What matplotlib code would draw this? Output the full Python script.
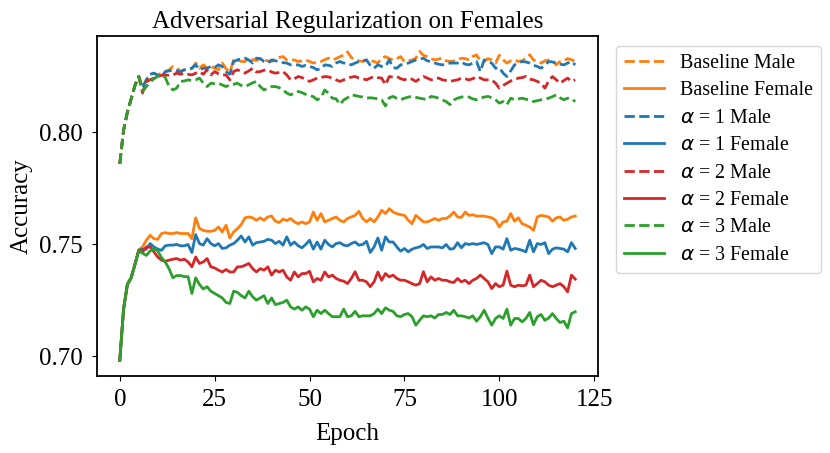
import matplotlib
matplotlib.use("Agg")
import matplotlib.pyplot as plt
import numpy as np

plt.rcParams['font.family'] = ['Liberation Serif', 'DejaVu Serif']
plt.rcParams['mathtext.fontset'] = 'dejavusans'

epochs = list(range(121))

baseline_male = [
    0.786, 0.801, 0.809, 0.815, 0.821, 0.825, 0.820, 0.8235, 0.8257, 0.8265,
    0.8257, 0.8265, 0.8272, 0.8280, 0.8295, 0.8290, 0.8272, 0.8280, 0.8280, 0.8285,
    0.8310, 0.8287, 0.8302, 0.8290, 0.8295, 0.8287, 0.8280, 0.8310, 0.8285, 0.8270,
    0.8324, 0.8325, 0.8317, 0.8317, 0.8330, 0.8325, 0.8322, 0.8330, 0.8324, 0.8320,
    0.8317, 0.8330, 0.8335, 0.8339, 0.8324, 0.8324, 0.8324, 0.8317, 0.8320, 0.8324,
    0.8317, 0.8310, 0.8315, 0.8317, 0.8325, 0.8332, 0.8324, 0.8330, 0.8339, 0.8345,
    0.8360, 0.8335, 0.8324, 0.8320, 0.8317, 0.8324, 0.8320, 0.8317, 0.8310, 0.8332,
    0.8339, 0.8330, 0.8324, 0.8330, 0.8339, 0.8317, 0.8320, 0.8324, 0.8332, 0.8362,
    0.8345, 0.8339, 0.8330, 0.8324, 0.8328, 0.8332, 0.8320, 0.8317, 0.8320, 0.8324,
    0.8332, 0.8330, 0.8324, 0.8340, 0.8347, 0.8320, 0.8317, 0.8330, 0.8324, 0.8310,
    0.8345, 0.8325, 0.8310, 0.8320, 0.8324, 0.8317, 0.8320, 0.8332, 0.8347, 0.8324,
    0.8317, 0.8310, 0.8320, 0.8324, 0.8320, 0.8302, 0.8317, 0.8320, 0.8330, 0.8325,
    0.8317,
]

baseline_female = [
    0.698, 0.721, 0.732, 0.735, 0.741, 0.7475, 0.7488, 0.7518, 0.7540, 0.7525,
    0.7522, 0.7548, 0.7552, 0.7548, 0.7548, 0.7552, 0.7548, 0.7548, 0.7548, 0.7525,
    0.7618, 0.7570, 0.7562, 0.7558, 0.7558, 0.7562, 0.7577, 0.7555, 0.7585, 0.7528,
    0.7555, 0.7570, 0.7588, 0.7618, 0.7622, 0.7618, 0.7607, 0.7618, 0.7607, 0.7622,
    0.7626, 0.7603, 0.7597, 0.7612, 0.7606, 0.7615, 0.7600, 0.7592, 0.7600, 0.7592,
    0.7600, 0.7644, 0.7607, 0.7637, 0.7600, 0.7607, 0.7615, 0.7622, 0.7607, 0.7600,
    0.7615, 0.7622, 0.7629, 0.7647, 0.7615, 0.7600, 0.7615, 0.7600, 0.7622, 0.7652,
    0.7637, 0.7659, 0.7644, 0.7637, 0.7632, 0.7629, 0.7607, 0.7592, 0.7629, 0.7615,
    0.7600, 0.7600, 0.7607, 0.7615, 0.7607, 0.7615, 0.7615, 0.7626, 0.7644, 0.7622,
    0.7620, 0.7644, 0.7629, 0.7632, 0.7626, 0.7626, 0.7626, 0.7622, 0.7618, 0.7607,
    0.7577, 0.7600, 0.7603, 0.7637, 0.7603, 0.7618, 0.7592, 0.7585, 0.7577, 0.7562,
    0.7622, 0.7629, 0.7626, 0.7622, 0.7603, 0.7618, 0.7622, 0.7607, 0.7612, 0.7622,
    0.7626,
]

alpha1_male = [
    0.786, 0.801, 0.809, 0.815, 0.821, 0.825, 0.8198, 0.8235, 0.8260, 0.8265,
    0.8255, 0.8250, 0.8272, 0.8275, 0.8280, 0.8275, 0.8272, 0.8280, 0.8282, 0.8287,
    0.8302, 0.8280, 0.8287, 0.8287, 0.8295, 0.8290, 0.8302, 0.8295, 0.8272, 0.8260,
    0.8317, 0.8324, 0.8330, 0.8332, 0.8324, 0.8310, 0.8332, 0.8330, 0.8317, 0.8310,
    0.8324, 0.8320, 0.8317, 0.8312, 0.8310, 0.8302, 0.8302, 0.8302, 0.8295, 0.8300,
    0.8295, 0.8290, 0.8280, 0.8285, 0.8302, 0.8300, 0.8295, 0.8310, 0.8317, 0.8310,
    0.8310, 0.8302, 0.8310, 0.8317, 0.8320, 0.8324, 0.8300, 0.8287, 0.8302, 0.8295,
    0.8295, 0.8324, 0.8290, 0.8287, 0.8302, 0.8305, 0.8310, 0.8317, 0.8324, 0.8328,
    0.8332, 0.8320, 0.8317, 0.8310, 0.8305, 0.8302, 0.8305, 0.8310, 0.8310, 0.8310,
    0.8315, 0.8305, 0.8302, 0.8310, 0.8317, 0.8272, 0.8324, 0.8315, 0.8310, 0.8287,
    0.8290, 0.8265, 0.8250, 0.8275, 0.8302, 0.8310, 0.8317, 0.8315, 0.8310, 0.8300,
    0.8295, 0.8287, 0.8300, 0.8317, 0.8315, 0.8310, 0.8305, 0.8302, 0.8310, 0.8317,
    0.8302,
]

alpha1_female = [
    0.698, 0.721, 0.732, 0.735, 0.741, 0.7473, 0.7478, 0.7478, 0.7503, 0.7488,
    0.7478, 0.7473, 0.7493, 0.7496, 0.7496, 0.7499, 0.7493, 0.7493, 0.7499, 0.7463,
    0.7543, 0.7503, 0.7496, 0.7525, 0.7503, 0.7493, 0.7503, 0.7481, 0.7484, 0.7496,
    0.7503, 0.7518, 0.7537, 0.7510, 0.7533, 0.7496, 0.7507, 0.7510, 0.7513, 0.7522,
    0.7518, 0.7503, 0.7513, 0.7496, 0.7533, 0.7496, 0.7510, 0.7493, 0.7484, 0.7499,
    0.7518, 0.7478, 0.7510, 0.7478, 0.7518, 0.7499, 0.7488, 0.7503, 0.7507, 0.7496,
    0.7493, 0.7503, 0.7510, 0.7496, 0.7499, 0.7513, 0.7463, 0.7488, 0.7528, 0.7473,
    0.7533, 0.7510, 0.7510, 0.7488, 0.7469, 0.7481, 0.7466, 0.7478, 0.7484, 0.7488,
    0.7499, 0.7481, 0.7488, 0.7488, 0.7488, 0.7484, 0.7499, 0.7478, 0.7481, 0.7507,
    0.7484, 0.7503, 0.7499, 0.7503, 0.7499, 0.7503, 0.7507, 0.7499, 0.7458, 0.7488,
    0.7488, 0.7478, 0.7525, 0.7473, 0.7481, 0.7478, 0.7473, 0.7466, 0.7518, 0.7466,
    0.7503, 0.7499, 0.7507, 0.7458, 0.7478, 0.7484, 0.7481, 0.7478, 0.7466, 0.7507,
    0.7481,
]

alpha2_male = [
    0.786, 0.801, 0.809, 0.815, 0.821, 0.825, 0.8176, 0.8228, 0.8235, 0.8243,
    0.8250, 0.8255, 0.8257, 0.8255, 0.8257, 0.8265, 0.8260, 0.8265, 0.8260, 0.8257,
    0.8265, 0.8272, 0.8260, 0.8280, 0.8257, 0.8272, 0.8262, 0.8257, 0.8257, 0.8235,
    0.8272, 0.8280, 0.8272, 0.8265, 0.8275, 0.8287, 0.8270, 0.8272, 0.8278, 0.8280,
    0.8270, 0.8265, 0.8268, 0.8272, 0.8257, 0.8235, 0.8240, 0.8250, 0.8245, 0.8235,
    0.8228, 0.8235, 0.8243, 0.8245, 0.8250, 0.8248, 0.8243, 0.8235, 0.8228, 0.8235,
    0.8243, 0.8247, 0.8250, 0.8243, 0.8240, 0.8235, 0.8243, 0.8250, 0.8245, 0.8243,
    0.8213, 0.8250, 0.8247, 0.8250, 0.8240, 0.8235, 0.8243, 0.8238, 0.8228, 0.8240,
    0.8250, 0.8243, 0.8235, 0.8240, 0.8243, 0.8235, 0.8232, 0.8228, 0.8232, 0.8235,
    0.8243, 0.8240, 0.8235, 0.8240, 0.8250, 0.8243, 0.8235, 0.8235, 0.8235, 0.8220,
    0.8198, 0.8210, 0.8220, 0.8230, 0.8235, 0.8243, 0.8245, 0.8250, 0.8238, 0.8235,
    0.8228, 0.8220, 0.8198, 0.8230, 0.8250, 0.8235, 0.8220, 0.8232, 0.8243, 0.8228,
    0.8235,
]

alpha2_female = [
    0.698, 0.721, 0.732, 0.735, 0.741, 0.7473, 0.7465, 0.7488, 0.7488, 0.7466,
    0.7443, 0.7429, 0.7424, 0.7429, 0.7433, 0.7436, 0.7429, 0.7433, 0.7421, 0.7399,
    0.7443, 0.7414, 0.7421, 0.7436, 0.7399, 0.7394, 0.7384, 0.7376, 0.7387, 0.7376,
    0.7376, 0.7399, 0.7399, 0.7406, 0.7414, 0.7391, 0.7376, 0.7391, 0.7384, 0.7399,
    0.7362, 0.7384, 0.7376, 0.7384, 0.7354, 0.7339, 0.7376, 0.7354, 0.7369, 0.7369,
    0.7379, 0.7332, 0.7347, 0.7339, 0.7376, 0.7354, 0.7362, 0.7347, 0.7339, 0.7335,
    0.7324, 0.7347, 0.7377, 0.7339, 0.7339, 0.7332, 0.7310, 0.7332, 0.7376, 0.7339,
    0.7369, 0.7354, 0.7362, 0.7347, 0.7339, 0.7339, 0.7332, 0.7324, 0.7317, 0.7324,
    0.7377, 0.7332, 0.7354, 0.7339, 0.7347, 0.7339, 0.7339, 0.7332, 0.7329, 0.7347,
    0.7332, 0.7339, 0.7324, 0.7339, 0.7347, 0.7362, 0.7347, 0.7332, 0.7302, 0.7324,
    0.7310, 0.7317, 0.7380, 0.7317, 0.7310, 0.7317, 0.7314, 0.7317, 0.7362, 0.7310,
    0.7324, 0.7339, 0.7332, 0.7317, 0.7310, 0.7317, 0.7324, 0.7310, 0.7287, 0.7362,
    0.7344,
]

alpha3_male = [
    0.786, 0.801, 0.809, 0.815, 0.821, 0.825, 0.8185, 0.8205, 0.8225, 0.8240,
    0.8250, 0.8257, 0.8245, 0.8205, 0.8190, 0.8198, 0.8228, 0.8230, 0.8235, 0.8232,
    0.8235, 0.8243, 0.8220, 0.8205, 0.8220, 0.8218, 0.8220, 0.8212, 0.8205, 0.8213,
    0.8215, 0.8220, 0.8210, 0.8205, 0.8213, 0.8222, 0.8228, 0.8205, 0.8190, 0.8198,
    0.8205, 0.8205, 0.8200, 0.8190, 0.8176, 0.8168, 0.8175, 0.8183, 0.8178, 0.8170,
    0.8165, 0.8160, 0.8146, 0.8155, 0.8190, 0.8175, 0.8153, 0.8150, 0.8125, 0.8145,
    0.8155, 0.8168, 0.8165, 0.8161, 0.8158, 0.8153, 0.8155, 0.8153, 0.8150, 0.8146,
    0.8118, 0.8155, 0.8161, 0.8152, 0.8146, 0.8153, 0.8158, 0.8161, 0.8157, 0.8153,
    0.8150, 0.8146, 0.8161, 0.8158, 0.8153, 0.8145, 0.8138, 0.8124, 0.8145, 0.8153,
    0.8158, 0.8161, 0.8158, 0.8150, 0.8146, 0.8153, 0.8158, 0.8161, 0.8155, 0.8146,
    0.8131, 0.8138, 0.8124, 0.8153, 0.8146, 0.8150, 0.8153, 0.8148, 0.8146, 0.8138,
    0.8142, 0.8146, 0.8150, 0.8153, 0.8160, 0.8168, 0.8155, 0.8146, 0.8153, 0.8150,
    0.8138,
]

alpha3_female = [
    0.698, 0.721, 0.732, 0.735, 0.741, 0.747, 0.746, 0.745, 0.747, 0.748,
    0.747, 0.744, 0.742, 0.739, 0.735, 0.736, 0.736, 0.7355, 0.7355, 0.728,
    0.735, 0.732, 0.730, 0.731, 0.729, 0.728, 0.727, 0.726, 0.724, 0.7235,
    0.729, 0.7285, 0.727, 0.726, 0.729, 0.7265, 0.725, 0.726, 0.727, 0.7235,
    0.726, 0.723, 0.7235, 0.724, 0.725, 0.722, 0.721, 0.722, 0.7205, 0.722,
    0.721, 0.7176, 0.7205, 0.719, 0.7205, 0.719, 0.7176, 0.7176, 0.7176, 0.721,
    0.7176, 0.718, 0.720, 0.7176, 0.718, 0.718, 0.718, 0.719, 0.721, 0.719,
    0.7216, 0.7205, 0.720, 0.718, 0.7176, 0.7186, 0.719, 0.7176, 0.7138, 0.716,
    0.718, 0.7176, 0.718, 0.717, 0.7186, 0.7186, 0.7195, 0.7186, 0.7205, 0.718,
    0.718, 0.7176, 0.717, 0.718, 0.7156, 0.7176, 0.7205, 0.717, 0.7138, 0.7168,
    0.718, 0.7168, 0.721, 0.7138, 0.7168, 0.7168, 0.7153, 0.7168, 0.7195, 0.714,
    0.7176, 0.7186, 0.716, 0.717, 0.719, 0.7168, 0.715, 0.7156, 0.7126, 0.719,
    0.7198,
]

series = [
    (baseline_male, "Baseline Male", "tab:orange", "--"),
    (baseline_female, "Baseline Female", "tab:orange", "-"),
    (alpha1_male, r"$\alpha$ = 1 Male", "tab:blue", "--"),
    (alpha1_female, r"$\alpha$ = 1 Female", "tab:blue", "-"),
    (alpha2_male, r"$\alpha$ = 2 Male", "tab:red", "--"),
    (alpha2_female, r"$\alpha$ = 2 Female", "tab:red", "-"),
    (alpha3_male, r"$\alpha$ = 3 Male", "tab:green", "--"),
    (alpha3_female, r"$\alpha$ = 3 Female", "tab:green", "-"),
]

fig = plt.figure(figsize=(8.3, 4.53), dpi=100)
ax = fig.add_axes([97/830, 1 - 376/453, 501/830, 340/453])
for vals, lab, col, ls in series:
    ax.plot(epochs, vals, ls, color=col, label=lab, lw=2)

ax.set_title("Adversarial Regularization on Females", fontsize=18)
ax.set_xlabel("Epoch", fontsize=18, labelpad=9)
ax.set_ylabel("Accuracy", fontsize=18)
ax.set_xticks([0, 25, 50, 75, 100, 125])
ax.set_yticks([0.70, 0.75, 0.80])
ax.tick_params(labelsize=18)
ax.tick_params(axis='y', pad=7)
ax.tick_params(axis='x', pad=5.5)
for s in ax.spines.values():
    s.set_linewidth(1.3)
ax.legend(loc="upper left", bbox_to_anchor=(1.015, 1.0), fontsize=14.4,
          handlelength=2.0, labelspacing=0.42)
fig.savefig("out.png", dpi=100)
